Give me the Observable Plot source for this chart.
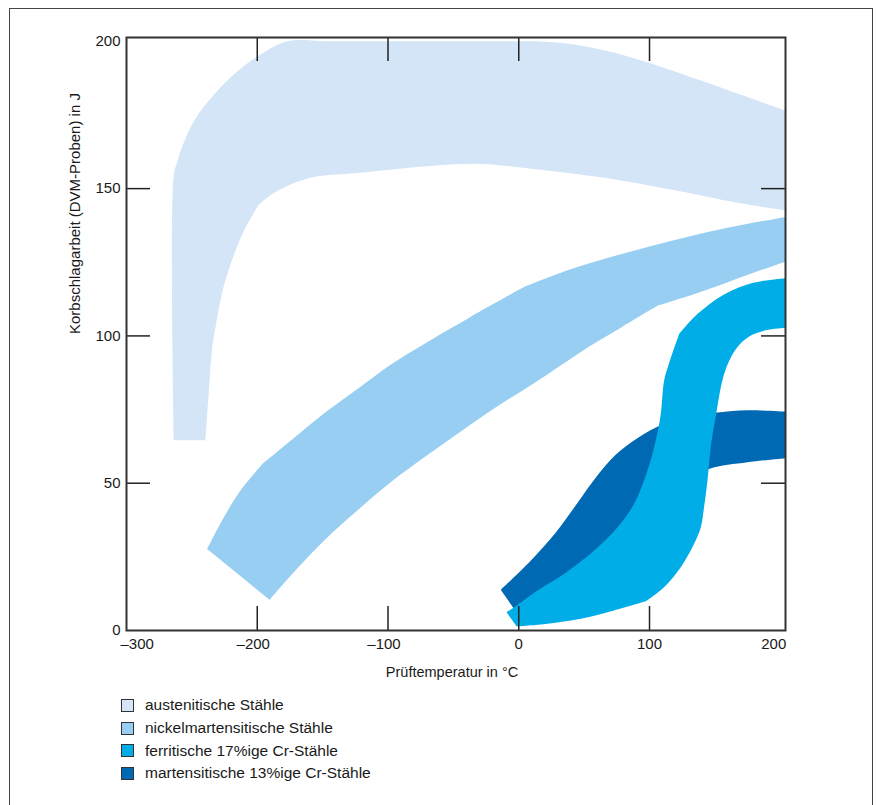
<!DOCTYPE html>
<html><head><meta charset="utf-8">
<script src="https://cdn.jsdelivr.net/npm/d3@7"></script>
<script src="https://cdn.jsdelivr.net/npm/@observablehq/plot@0.6"></script>
<style>
body{margin:0;background:#fff;font-family:"Liberation Sans",Arial,Helvetica,sans-serif;}
#wrap{position:relative;width:876px;height:805px;overflow:hidden;background:#fff;}
#border{position:absolute;left:9px;top:8px;width:862px;height:840px;border:1px solid #444;}
#chart{position:absolute;left:0;top:0;}
#legend{position:absolute;left:121px;top:694px;font-size:15.5px;color:#1a1a1a;}
.row{display:flex;align-items:center;height:22.7px;}
.sw{width:13px;height:13px;border:1px solid #333;margin-right:11px;box-sizing:border-box;}
</style></head>
<body><div id="wrap"><div id="border"></div><div id="chart"></div><div id="legend"></div></div>
<script>
// ---- data ----
const seriesNames = ["austenitische Stähle", "nickelmartensitische Stähle", "ferritische 17%ige Cr-Stähle", "martensitische 13%ige Cr-Stähle"];
const seriesColors = ["#d4e5f7", "#97cef2", "#00ade6", "#0069b4"];

const xTicks = [-300, -200, -100, 0, 100, 200];
const yTicks = [0, 50, 100, 150, 200];
const xInner = [-200, -100, 0, 100];
const yInner = [50, 100, 150];

const xLabel = "Prüftemperatur in °C";
const yLabel = "Korbschlagarbeit (DVM-Proben) in J";

// band outlines (closed polygons), repeated points = sharp corners
const austX = [-263.8, -263.8, -261, -258.7, -248.5, -233.2, -215.3, -197.5, -177, -140, -10, 14.2, 39.7, 62.7, 85.6, 108.6, 139.2, 177.4, 204, 204, 204, 204, 167.3, 116.2, 65.2, 14.2, -29.1, -69.9, -121, -159.2, -184.7, -198.8, -198.8, -210.3, -220.4, -226.5, -231.1, -234.4, -237, -239.6];
const austY = [64.6, 154.8, 159.3, 162.7, 172.9, 181.9, 189.8, 195.5, 200, 200, 200, 200, 199.1, 197.2, 194.6, 191.4, 186.7, 180.7, 176.5, 176.5, 142.6, 142.6, 145.2, 149.7, 153.7, 156.5, 158.4, 157.6, 155.4, 153.7, 149.2, 144.6, 144.6, 135.6, 124.3, 115.3, 105.1, 96, 81.4, 64.6];

const nickX = [-238.3, -225.6, -212.8, -195.9, -195.9, -174.5, -149.3, -123.3, -98, -72, -50.6, -29.1, 4, 4, 39.7, 78, 116.2, 154.5, 204, 204, 204, 204, 180, 141.7, 106, 106, 78, 52.5, 14.2, -21.5, -47, -72.5, -98, -123.5, -149, -174.5, -190.6];
const nickY = [27.7, 38.4, 47.5, 56.6, 56.6, 64.4, 73.6, 82, 90.2, 97.3, 102.9, 108.5, 116.6, 116.6, 122.6, 127.7, 132.2, 136.2, 140.4, 140.4, 125.2, 125.2, 121.5, 115.3, 110.2, 110.2, 102.8, 96, 84.7, 74.6, 66.7, 58.7, 50.3, 40.7, 30.5, 18.6, 10.4];

const ferrX = [-9.3, -3.7, 14.2, 34.6, 57.5, 75.4, 88.1, 98.4, 104.7, 108.6, 111.1, 114.7, 122.6, 122.6, 136.6, 157, 180, 204, 204, 204, 204, 188.9, 175.9, 166.7, 160.6, 156, 153.3, 151, 148.7, 146.8, 144.3, 141.7, 139.2, 134, 123.9, 111.1, 97.1, 97.1, 72.8, 47.4, 21.9, -1.6];
const ferrY = [6.2, 7.8, 13.6, 19.2, 27.1, 35, 42.9, 54.2, 64.4, 73.5, 84.7, 90.4, 100.6, 100.6, 107.4, 114.1, 118.1, 119.6, 119.6, 102.8, 102.8, 101.9, 99.7, 95.9, 91.2, 85.4, 79.7, 73.6, 67.8, 62.1, 50.8, 41.8, 35, 29.4, 21.5, 14.7, 9.9, 9.9, 6.8, 4, 2.3, 1.4];

const martX = [-13.8, 9.1, 28.2, 43.5, 56.5, 70.3, 85.6, 106, 127.7, 152, 174.9, 204, 204, 204, 204, 174.9, 145.5, 123.9, 93.3, 62.7, 32, -3.7];
const martY = [13.8, 23.7, 33.2, 42.4, 50.5, 58, 63.7, 69.2, 72.5, 74, 74.8, 74.3, 74.3, 58.5, 58.5, 57.1, 54.8, 49.2, 37.3, 23.7, 13.6, 7.4];

// drawing order: lightest first, ferritic on top
const bands = [
  {name: seriesNames[0], xs: austX, ys: austY, color: seriesColors[0]},
  {name: seriesNames[1], xs: nickX, ys: nickY, color: seriesColors[1]},
  {name: seriesNames[3], xs: martX, ys: martY, color: seriesColors[3]},
  {name: seriesNames[2], xs: ferrX, ys: ferrY, color: seriesColors[2]}
];

// ---- layout ----
const W = 876, H = 690;
const mTop = 37, mRight = 91, mBottom = 60, mLeft = 126;
const plotW = W - mLeft - mRight, plotH = H - mTop - mBottom;
const TICK = 24;
const ink = "#1a1a1a";
const fmt = d => d < 0 ? "–" + Math.abs(d) : String(d);

const bandMarks = bands.map(b => Plot.line(
  b.xs.map((x, i) => ({x, y: b.ys[i]})),
  {x: "x", y: "y", fill: b.color, stroke: "none", curve: "catmull-rom"}
));

const chart = Plot.plot({
  width: W, height: H,
  marginTop: mTop, marginRight: mRight, marginBottom: mBottom, marginLeft: mLeft,
  style: {fontFamily: "'Liberation Sans', Arial, Helvetica, sans-serif", background: "transparent", color: ink},
  x: {domain: [-300, 204], axis: null},
  y: {domain: [0, 201.3], axis: null},
  marks: [
    ...bandMarks,
    Plot.tickX(xInner, {x: d => d, insetTop: plotH - TICK, stroke: "#222", strokeWidth: 1.5}),
    Plot.tickX(xInner, {x: d => d, insetBottom: plotH - TICK, stroke: "#222", strokeWidth: 1.5}),
    Plot.tickY(yInner, {y: d => d, insetRight: plotW - TICK, stroke: "#222", strokeWidth: 1.5}),
    Plot.tickY(yInner, {y: d => d, insetLeft: plotW - TICK, stroke: "#222", strokeWidth: 1.5}),
    Plot.frame({stroke: "#333", strokeWidth: 2}),
    // x tick labels
    Plot.text([xTicks[0]], {x: d => d, frameAnchor: "bottom", dy: 18, textAnchor: "start", dx: -6, text: fmt, fontSize: 15, fill: ink}),
    Plot.text(xTicks.filter(v => v < 0 && v > xTicks[0]), {x: d => d, frameAnchor: "bottom", dy: 18, dx: -4, text: fmt, fontSize: 15, fill: ink}),
    Plot.text(xTicks.filter(v => v >= 0 && v < xTicks[xTicks.length - 1]), {x: d => d, frameAnchor: "bottom", dy: 18, text: fmt, fontSize: 15, fill: ink}),
    Plot.text([xTicks[xTicks.length - 1]], {x: d => d, frameAnchor: "bottom", dy: 18, textAnchor: "end", dx: 6, text: fmt, fontSize: 15, fill: ink}),
    // y tick labels
    Plot.text(yTicks, {y: d => d, frameAnchor: "left", textAnchor: "end", dx: -6, text: fmt, fontSize: 15, fill: ink}),
    // axis titles
    Plot.text([xLabel], {frameAnchor: "bottom", dy: 46, dx: -4, text: d => d, fontSize: 14.5, fill: ink}),
    Plot.text([yLabel], {frameAnchor: "left", rotate: -90, dx: -51, text: d => d, fontSize: 15, fill: ink})
  ]
});
document.getElementById("chart").appendChild(chart);

// legend
const legend = document.getElementById("legend");
seriesNames.forEach((name, i) => {
  const row = document.createElement("div");
  row.className = "row";
  const sw = document.createElement("span");
  sw.className = "sw";
  sw.style.background = seriesColors[i];
  const t = document.createElement("span");
  t.textContent = name;
  row.appendChild(sw); row.appendChild(t);
  legend.appendChild(row);
});
</script></body></html>
